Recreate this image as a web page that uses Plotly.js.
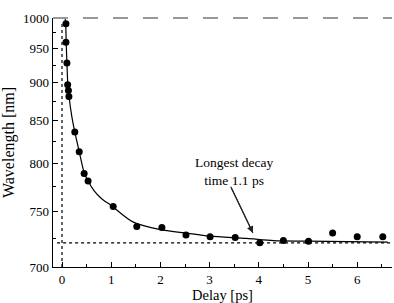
<!DOCTYPE html>
<html>
<head>
<meta charset="utf-8">
<script src="https://cdn.plot.ly/plotly-3.0.1.min.js"></script>
<style>html,body{margin:0;padding:0;background:#fff;}#chart{width:394px;height:303px;}</style>
</head>
<body>
<div id="chart"></div>
<script>
// Measured points: delay [ps] and wavelength [nm]
const delayPs = [0.08, 0.08, 0.10, 0.115, 0.13, 0.14, 0.26, 0.35, 0.45, 0.53, 1.04, 1.52, 2.03, 2.52, 3.01, 3.52, 4.02, 4.50, 5.01, 5.50, 6.00, 6.52];
const wavelengthNm = [990, 960, 928, 897, 889, 881, 836, 813, 789, 781, 755, 736, 735, 728, 726.5, 725.7, 721, 723, 722.3, 730, 726.5, 726.5];
// Fit curve
const fitDelay = [0.065, 0.075, 0.085, 0.10, 0.12, 0.14, 0.20, 0.26, 0.35, 0.45, 0.53, 0.65, 0.80, 1.00, 1.45, 2.00, 2.50, 3.00, 3.75, 4.30, 5.00, 5.80, 6.62];
const fitWavelength = [998, 990, 960, 928, 895, 882, 855, 836, 813, 790, 781, 771, 763, 756, 740, 733, 730, 727, 725, 723, 722.5, 722, 721.7];
// Asymptote and time-zero guide lines
const asymDelay = [-0.10, 6.67];
const asymWavelength = [721, 721];
const zeroDelay = [0, 0];
const zeroWavelength = [700, 995];
// Axis ticks
const yTickNm = [1000, 950, 900, 850, 800, 750, 700];
const yMinorNm = [975, 925, 875, 825, 775, 725];
const xTicks = [0, 1, 2, 3, 4, 5, 6];
const xMinor = [0.5, 1.5, 2.5, 3.5, 4.5, 5.5, 6.5];
// Annotation: label position, arrow tail and tip (delay, wavelength)
const labelAt = [3.5, 791];
const arrowTail = [3.43, 775];
const arrowTip = [3.88, 730];

// the wavelength axis is linear in photon energy (1/lambda)
const toE = nm => nm.map(v => 1000 / v);
const e = v => 1000 / v;

const font = {family: '"Liberation Serif", "DejaVu Serif", serif', color: '#000'};

const traces = [
  {x: asymDelay, y: toE(asymWavelength), mode: 'lines', line: {color: '#000', width: 1.4, dash: 'dot'}, hoverinfo: 'skip'},
  {x: zeroDelay, y: toE(zeroWavelength), mode: 'lines', line: {color: '#000', width: 1.2, dash: 'dot'}, hoverinfo: 'skip'},
  {x: fitDelay, y: toE(fitWavelength), mode: 'lines', line: {color: '#000', width: 1.2, shape: 'spline', smoothing: 0.8}},
  {x: delayPs, y: toE(wavelengthNm), mode: 'markers', marker: {color: '#000', size: 7, symbol: 'circle'}}
];

const layout = {
  width: 394, height: 303,
  margin: {l: 53, r: 2, t: 18, b: 36},
  paper_bgcolor: '#fff', plot_bgcolor: '#fff',
  showlegend: false,
  font: Object.assign({size: 13}, font),
  xaxis: {
    range: [-0.183, 6.707], showgrid: false, zeroline: false,
    showline: true, linecolor: '#000', linewidth: 1.3,
    ticks: 'inside', ticklen: 5, tickwidth: 1, tickcolor: '#000',
    tickmode: 'array', tickvals: xTicks, ticktext: xTicks.map(String),
    minor: {tickmode: 'array', tickvals: xMinor, ticklen: 3, ticks: 'inside', tickcolor: '#000'},
    tickfont: Object.assign({size: 13}, font),
    title: {text: 'Delay [ps]', font: Object.assign({size: 14.5}, font), standoff: 3},
    automargin: false
  },
  yaxis: {
    range: [1000 / 700, 1.0], showgrid: false, zeroline: false,
    showline: true, linecolor: '#000', linewidth: 1.3,
    ticks: 'inside', ticklen: 5, tickwidth: 1, tickcolor: '#000',
    tickmode: 'array', tickvals: toE(yTickNm), ticktext: yTickNm.map(String),
    minor: {tickmode: 'array', tickvals: toE(yMinorNm), ticklen: 3, ticks: 'inside', tickcolor: '#000'},
    tickfont: Object.assign({size: 13}, font),
    title: {text: 'Wavelength [nm]', font: Object.assign({size: 16}, font), standoff: 6},
    automargin: false
  },
  shapes: [
    {type: 'line', xref: 'paper', yref: 'paper', x0: 0, x1: 1, y0: 1, y1: 1, line: {color: '#333', width: 1.2, dash: 'longdash'}},
    {type: 'line', xref: 'x', yref: 'y', x0: arrowTail[0], y0: e(arrowTail[1]), x1: arrowTip[0], y1: e(arrowTip[1]), line: {color: '#222', width: 1.1}}
  ],
  annotations: [
    {x: labelAt[0], y: e(labelAt[1]), xref: 'x', yref: 'y', text: 'Longest decay<br>time 1.1 ps', showarrow: false,
     font: Object.assign({size: 13.5}, font), align: 'center'},
    {x: arrowTip[0], y: e(arrowTip[1]), xref: 'x', yref: 'y', text: ' ', font: {size: 1}, borderpad: 0, showarrow: true,
     axref: 'x', ayref: 'y', ax: arrowTail[0], ay: e(arrowTail[1]),
     arrowhead: 2, arrowsize: 1.2, arrowwidth: 1.1, arrowcolor: '#222'}
  ]
};

Plotly.newPlot('chart', traces, layout, {staticPlot: true, displayModeBar: false});
</script>
</body>
</html>
